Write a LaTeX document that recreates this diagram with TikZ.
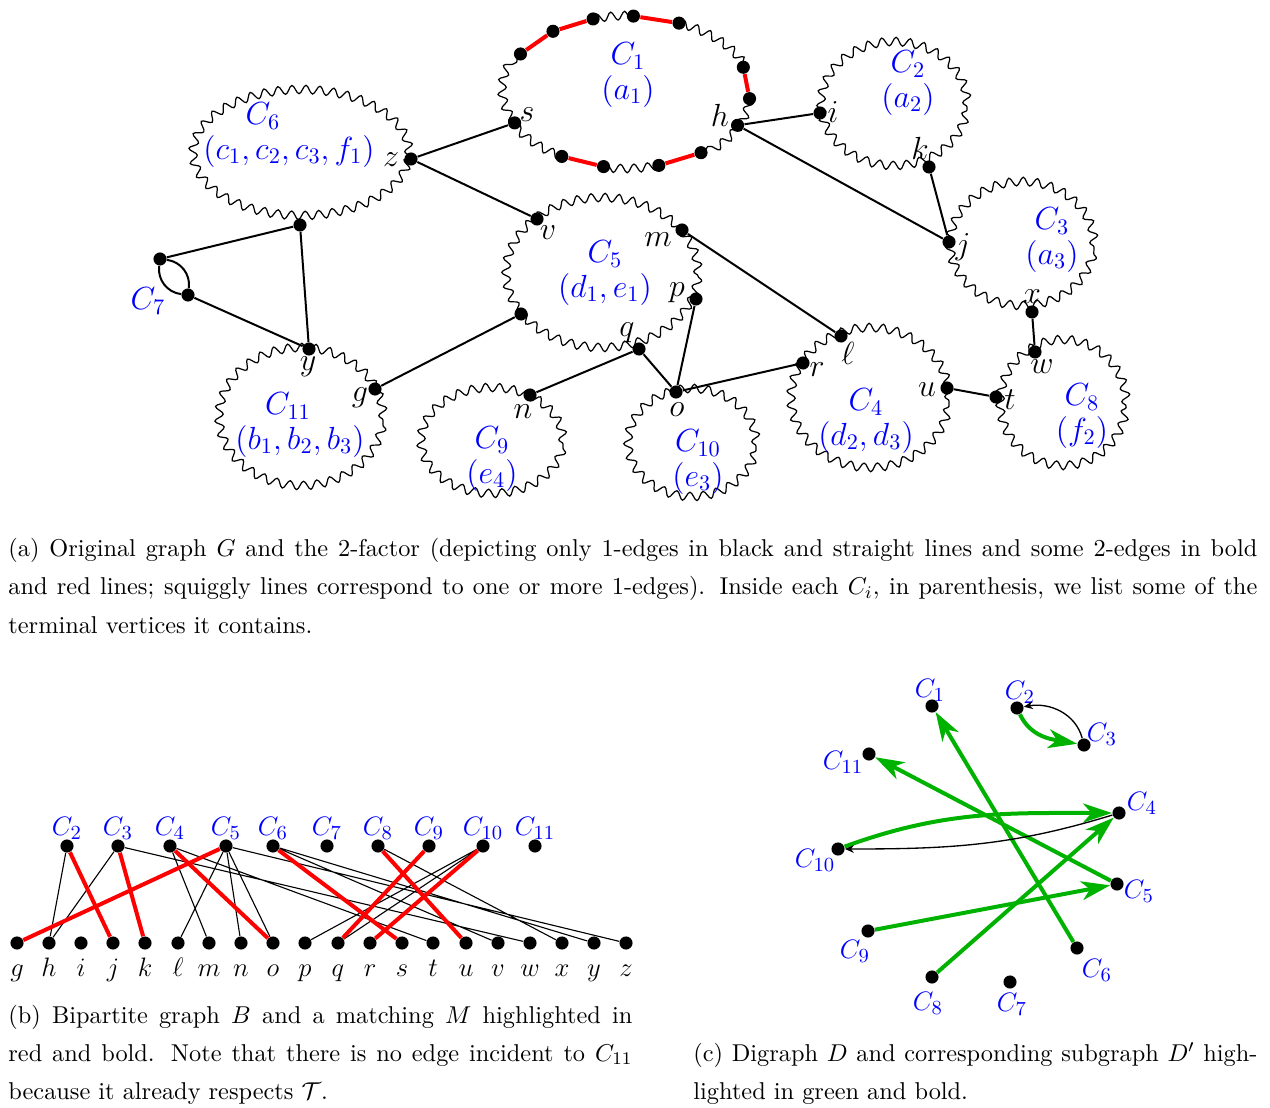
\documentclass[tikz,border=0pt]{standalone}
\usepackage{amsmath,amssymb}
\usetikzlibrary{decorations.pathmorphing,arrows.meta,calc}
\definecolor{dgreen}{RGB}{0,178,0}
\begin{document}
\begin{tikzpicture}[x=0.45pt,y=0.45pt,
  vdot/.style={circle,fill=black,inner sep=0pt,minimum size=5.9pt},
  wavy/.style={decorate,decoration={snake,amplitude=1.9pt,segment length=6.2pt},line width=0.55pt},
  eone/.style={line width=0.9pt},
  etwo/.style={red,line width=1.8pt},
  cyclab/.style={text=blue,font=\fontsize{14}{15.5}\selectfont,inner sep=0pt,align=center},
  vlab/.style={font=\fontsize{14}{16}\selectfont,inner sep=0pt},
  btop/.style={text=blue,font=\fontsize{12.5}{14}\selectfont,inner sep=0pt,anchor=base},
  bbot/.style={font=\fontsize{12.5}{15}\selectfont,inner sep=0pt,anchor=base},
  bthin/.style={line width=0.5pt},
  bred/.style={red,line width=1.8pt},
  dlab/.style={text=blue,font=\fontsize{13}{15}\selectfont,inner sep=0pt},
  dgr/.style={dgreen,line width=1.8pt,-{Stealth[length=13pt,width=8.5pt,inset=3.8pt]}},
  dbl/.style={line width=0.6pt,-{Stealth[length=4pt,width=3.5pt]}},
  captxt/.style={anchor=base west,inner sep=0pt,font=\fontsize{10.95}{13.6}\selectfont},
]
\useasboundingbox (0,0) rectangle (1270,-1108);

% ---------------- (a) ----------------
\coordinate (C1c) at (627,-92);
\foreach \nm/\ang in {P1/150,P2/127,P3/106,P4/87,P5/65,P6/19,P7/-5,h/-26,P9/-53,P10/-75,P11/-101,P12/-122,s/-156}
  \node[vdot] (\nm) at ($(C1c)+(\ang:123 and 76)$) {};
\draw[wavy] ($(C1c)+(-156:123 and 76)$) arc[start angle=-156,end angle=-210,x radius=123,y radius=76];
\draw[wavy] ($(C1c)+(106:123 and 76)$) arc[start angle=106,end angle=87,x radius=123,y radius=76];
\draw[wavy] ($(C1c)+(65:123 and 76)$) arc[start angle=65,end angle=19,x radius=123,y radius=76];
\draw[wavy] ($(C1c)+(-5:123 and 76)$) arc[start angle=-5,end angle=-53,x radius=123,y radius=76];
\draw[wavy] ($(C1c)+(-75:123 and 76)$) arc[start angle=-75,end angle=-101,x radius=123,y radius=76];
\draw[wavy] ($(C1c)+(-122:123 and 76)$) arc[start angle=-122,end angle=-156,x radius=123,y radius=76];
\draw[etwo] (P1)--(P2) (P2)--(P3) (P4)--(P5) (P6)--(P7) (P9)--(P10) (P11)--(P12);

\draw[wavy] (894,-107) ellipse [x radius=73,y radius=62];
\draw[wavy] (1022,-247) ellipse [x radius=72,y radius=62];
\draw[wavy] (301,-156) ellipse [x radius=108,y radius=63];
\draw[wavy] (602,-276) ellipse [x radius=96,y radius=75];
\draw[wavy] (301,-420) ellipse [x radius=82,y radius=69];
\draw[wavy] (492,-444) ellipse [x radius=71,y radius=53];
\draw[wavy] (692,-446) ellipse [x radius=64,y radius=54];
\draw[wavy] (870,-401) ellipse [x radius=79,y radius=70];
\draw[wavy] (1063,-406) ellipse [x radius=63,y radius=63];

\node[vdot] (i) at (820,-113) {};
\node[vdot] (k) at (929,-167) {};
\node[vdot] (j) at (949,-242) {};
\node[vdot] (x) at (1032,-312) {};
\node[vdot] (z) at (411,-159) {};
\node[vdot] (c6b) at (300,-225) {};
\node[vdot] (v) at (537,-219) {};
\node[vdot] (m) at (682,-230) {};
\node[vdot] (p) at (696,-299) {};
\node[vdot] (q) at (639,-349) {};
\node[vdot] (c5l) at (521,-314) {};
\node[vdot] (c7a) at (160,-259) {};
\node[vdot] (c7b) at (188,-295) {};
\node[vdot] (y) at (309,-349) {};
\node[vdot] (g) at (375,-389) {};
\node[vdot] (n) at (530,-395) {};
\node[vdot] (o) at (676,-392) {};
\node[vdot] (l) at (841,-336) {};
\node[vdot] (r) at (803,-363) {};
\node[vdot] (u) at (947,-388) {};
\node[vdot] (w) at (1035,-352) {};
\node[vdot] (t) at (996,-397) {};

\draw[eone] (s)--(z) (z)--(v) (h)--(i) (h)--(j) (k)--(j) (m)--(l) (x)--(w)
  (c7a)--(c6b) (c7b)--(y) (c6b)--(y) (g)--(c5l) (n)--(q) (q)--(o) (p)--(o) (o)--(r) (u)--(t);
\draw[eone] (c7a) to[bend right=45] (c7b);
\draw[eone] (c7a) to[bend left=45] (c7b);

% vertex labels
\node[vlab] (sL) at (527,-115) {$s$};
\node[vlab] (hL) at (720,-115) {$h$};
\node[vlab] (iL) at (833,-112) {$i$};
\node[vlab] (kL) at (920,-148) {$k$};
\node[vlab] (jL) at (963,-247) {$j$};
\node[vlab] (zL) at (391,-160) {$z$};
\node[vlab] (vL) at (548,-233) {$v$};
\node[vlab] (mL) at (658,-240) {$m$};
\node[vlab] (pL) at (677,-293) {$p$};
\node[vlab] (qL) at (627,-333) {$q$};
\node[vlab] (xL) at (1032,-297) {$x$};
\node[vlab] (wL) at (1042,-367) {$w$};
\node[vlab] (lL) at (848,-353) {$\ell$};
\node[vlab] (rL) at (817,-370) {$r$};
\node[vlab] (uL) at (927,-390) {$u$};
\node[vlab] (tL) at (1010,-400) {$t$};
\node[vlab] (yL) at (308,-367) {$y$};
\node[vlab] (gL) at (360,-398) {$g$};
\node[vlab] (nL) at (523,-412) {$n$};
\node[vlab] (oL) at (677,-410) {$o$};

% cycle labels
\node[cyclab] (C1n) at (628,-75) {$C_1$\\$(a_1)$};
\node[cyclab] (C2n) at (908,-83) {$C_2$\\$(a_2)$};
\node[cyclab] (C3n) at (1052,-240) {$C_3$\\$(a_3)$};
\node[cyclab] (C4n) at (866,-421) {$C_4$\\$(d_2,d_3)$};
\node[cyclab] (C5n) at (605,-273) {$C_5$\\$(d_1,e_1)$};
\node[cyclab] (C6n) at (289,-135) {$C_6$\hspace*{23.4pt}\\$(c_1,c_2,c_3,f_1)$};
\node[cyclab] (C7n) at (148,-301) {$C_7$};
\node[cyclab] (C8n) at (1082,-416) {$C_8$\\$(f_2)$};
\node[cyclab] (C9n) at (492,-459) {$C_9$\\$(e_4)$};
\node[cyclab] (C10n) at (698,-462) {$C_{10}$\\$(e_3)$};
\node[cyclab] (C11n) at (300,-425) {$C_{11}$\hspace*{10.8pt}\\$(b_1,b_2,b_3)$};

% ---------------- (b) ----------------
\foreach \nm/\xx in {2/67,3/118,4/170,5/226,6/273,7/327,8/378,9/429,10/483,11/535} {
  \node[vdot] (b\nm) at (\xx,-846) {};
  \node[btop] (b\nm L) at (\xx,-835) {$C_{\nm}$};
}
\foreach \nm/\xx/\tx in {g/17/g,h/49/h,i/81/i,j/113/j,k/145/k,l/178/\ell,m/209/m,n/241/n,o/273/o,p/305/p,q/338/q,r/370/r,s/402/s,t/433/t,u/466/u,v/498/v,w/530/w,x/562/x,y/594/y,z/626/z} {
  \node[vdot] (b\nm) at (\xx,-943) {};
  \node[bbot] (b\nm L) at (\xx,-976) {$\tx$};
}
\draw[bthin] (b2)--(bh) (b3)--(bh) (b3)--(bw) (b4)--(bm) (b4)--(bt) (b5)--(bl) (b5)--(bn) (b5)--(bo) (b5)--(bz)
  (b6)--(bv) (b6)--(by) (b8)--(bx) (b10)--(bp) (b10)--(bq);
\draw[bred] (b2)--(bj) (b3)--(bk) (b4)--(bo) (b5)--(bg) (b6)--(bs) (b8)--(bu) (b9)--(bq) (b10)--(br);

% ---------------- (c) ----------------
\node[vdot] (d1) at (932,-706) {};
\node[vdot] (d2) at (1017,-708) {};
\node[vdot] (d3) at (1084,-745) {};
\node[vdot] (d11) at (869,-754) {};
\node[vdot] (d4) at (1119,-813) {};
\node[vdot] (d10) at (838,-849) {};
\node[vdot] (d5) at (1117,-884) {};
\node[vdot] (d9) at (868,-931) {};
\node[vdot] (d6) at (1077,-948) {};
\node[vdot] (d8) at (932,-977) {};
\node[vdot] (d7) at (1010,-982) {};
\node[dlab] (d1L) at (930,-690) {$C_1$};
\node[dlab] (d2L) at (1020,-692) {$C_2$};
\node[dlab] (d3L) at (1102,-734) {$C_3$};
\node[dlab] (d11L) at (843,-762) {$C_{11}$};
\node[dlab] (d4L) at (1142,-803) {$C_4$};
\node[dlab] (d10L) at (815,-860) {$C_{10}$};
\node[dlab] (d5L) at (1139,-891) {$C_5$};
\node[dlab] (d9L) at (855,-951) {$C_9$};
\node[dlab] (d6L) at (1097,-970) {$C_6$};
\node[dlab] (d8L) at (928,-1003) {$C_8$};
\node[dlab] (d7L) at (1012,-1004) {$C_7$};

\draw[dgr] (d5)--(d11);
\draw[dgr] (d6)--(d1);
\draw[dgr] (d8)--(d4);
\draw[dgr] (d9)--(d5);
\draw[dgr] (d10) to[out=20,in=180] (d4);
\draw[dgr] (d2) to[out=-65,in=170] (d3);
\draw[dbl] (d4) to[out=197,in=0] (d10);
\draw[dbl] (d3) to[out=105,in=10] (d2);

% ---------------- captions ----------------
\node[captxt] (capa1) at (8,-557) {\makebox[562pt][s]{(a) Original graph $G$ and the 2-factor (depicting only 1-edges in black and straight lines and some 2-edges in bold}};
\node[captxt] (capa2) at (8,-595) {\makebox[562pt][s]{and red lines; squiggly lines correspond to one or more 1-edges). Inside each $C_i$, in parenthesis, we list some of the}};
\node[captxt] (capa3) at (8,-633) {terminal vertices it contains.};
\node[captxt] (capb1) at (8,-1023) {\makebox[280.8pt][s]{(b) Bipartite graph $B$ and a matching $M$ highlighted in}};
\node[captxt] (capb2) at (8,-1061) {\makebox[280.8pt][s]{red and bold. Note that there is no edge incident to $C_{11}$}};
\node[captxt] (capb3) at (8,-1099) {because it already respects $\mathcal{T}$.};
\node[captxt] (capc1) at (693,-1061) {\makebox[253.8pt][s]{(c) Digraph $D$ and corresponding subgraph $D'$ high-}};
\node[captxt] (capc2) at (693,-1099) {lighted in green and bold.};
\end{tikzpicture}
\end{document}
